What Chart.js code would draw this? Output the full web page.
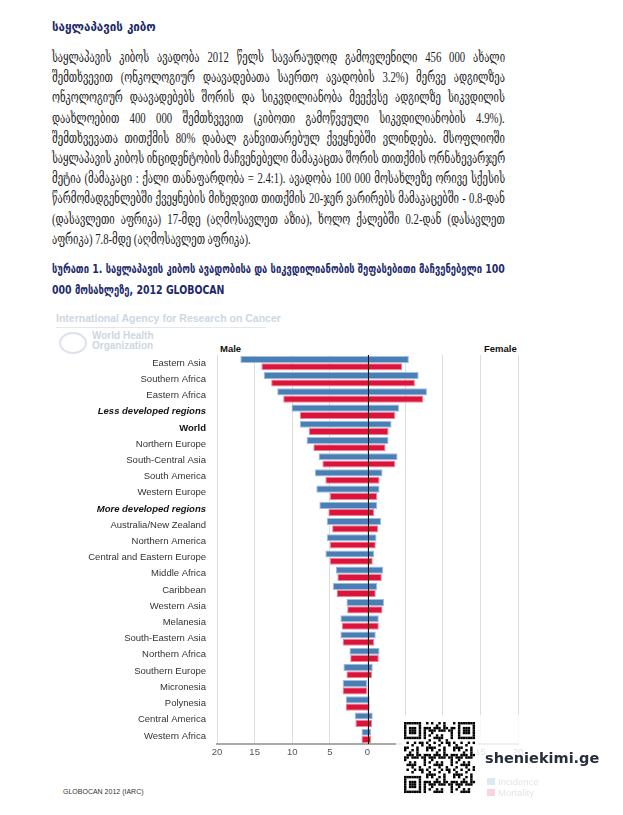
<!DOCTYPE html>
<html>
<head>
<meta charset="utf-8">
<script src="https://cdn.jsdelivr.net/npm/chart.js@4.4.0/dist/chart.umd.min.js"></script>
<style>
body { margin: 0; width: 623px; height: 815px; background: #fff; position: relative; overflow: hidden; }
.t { position: absolute; white-space: nowrap; line-height: 20px; transform-origin: 0 50%; }
.p { font-family: "Liberation Serif", "DejaVu Serif Condensed", "DejaVu Serif", serif; font-size: 14.5px; color: #1b1b1b; }
.h { font-family: "DejaVu Sans Condensed", "DejaVu Sans", sans-serif; font-weight: bold; font-size: 13px; color: #1c2a6b; }
.s { position: absolute; white-space: nowrap; font-family: "Liberation Sans", Arial, sans-serif; }
#chart { position: absolute; left: 40px; top: 340px; }
#veil { position: absolute; left: 396px; top: 715px; width: 227px; height: 85px; background: rgba(255,255,255,0.82); }
#qr { position: absolute; left: 402px; top: 720px; background: #fff; }
</style>
</head>
<body>

<div class="t h" id="title" style="left:52px; top:17px;">საყლაპავის კიბო</div>

<div id="para"></div>
<div id="caption"></div>

<!-- faded IARC / WHO header -->
<div class="s" style="left:56px; top:312px; font-size:10.5px; font-weight:bold; color:#cdd7e2;">International Agency for Research on Cancer</div>
<div style="position:absolute; left:56px; top:327px; width:210px; height:1px; background:#e3e8ee;"></div>
<div style="position:absolute; left:59px; top:332px; width:24px; height:18px; border-radius:50%; border:2px solid #dde3ea;"></div>
<div class="s" style="left:92px; top:331px; font-size:10px; font-weight:bold; line-height:10px; color:#cdd7e2;">World Health<br>Organization</div>

<div class="s" style="left:220px; top:343px; font-size:9.5px; font-weight:bold; color:#111;">Male</div>
<div class="s" style="left:484px; top:343px; font-size:9.5px; font-weight:bold; color:#111;">Female</div>

<canvas id="chart" width="490" height="428"></canvas>

<div class="s" style="left:63px; top:788px; font-size:7px; color:#333;">GLOBOCAN 2012 (IARC)</div>

<!-- legend, faded behind the watermark -->
<div style="position:absolute; left:487px; top:778px; width:8px; height:7px; background:#4a7fb5;"></div>
<div class="s" style="left:498px; top:776px; font-size:9.5px; color:#666;">Incidence</div>
<div style="position:absolute; left:487px; top:789px; width:8px; height:7px; background:#dc143c;"></div>
<div class="s" style="left:498px; top:787px; font-size:9.5px; color:#666;">Mortality</div>

<div id="veil"></div>
<canvas id="qr" width="75" height="75"></canvas>
<div class="s" style="left:485px; top:750px; font-family:'DejaVu Sans',sans-serif; font-size:14.5px; font-weight:bold; color:#262d3b;">sheniekimi.ge</div>

<script>
// body text, one entry per printed line
const paraLines = [
    'საყლაპავის კიბოს ავადობა 2012 წელს სავარაუდოდ გამოვლენილი 456 000 ახალი',
    'შემთხვევით (ონკოლოგიურ დაავადებათა საერთო ავადობის 3.2%) მერვე ადგილზეა',
    'ონკოლოგიურ დაავადებებს შორის და სიკვდილიანობა მეექვსე ადგილზე სიკვდილის',
    'დაახლოებით 400 000 შემთხვევით (კიბოთი გამოწვეული სიკვდილიანობის 4.9%).',
    'შემთხვევათა თითქმის 80% დაბალ განვითარებულ ქვეყნებში ვლინდება. მსოფლიოში',
    'საყლაპავის კიბოს ინციდენტობის მაჩვენებელი მამაკაცთა შორის თითქმის ორნახევარჯერ',
    'მეტია (მამაკაცი : ქალი თანაფარდობა = 2.4:1). ავადობა 100 000 მოსახლეზე ორივე სქესის',
    'წარმომადგენლებში ქვეყნების მიხედვით თითქმის 20-ჯერ ვარირებს მამაკაცებში - 0.8-დან',
    '(დასავლეთი აფრიკა) 17-მდე (აღმოსავლეთ აზია), ხოლო ქალებში 0.2-დან (დასავლეთ',
    'აფრიკა) 7.8-მდე (აღმოსავლეთ აფრიკა).'
];
const captionLines = [
    'სურათი 1. საყლაპავის კიბოს ავადობისა და სიკვდილიანობის შეფასებითი მაჩვენებელი 100',
    '000 მოსახლეზე, 2012 GLOBOCAN'
];

// chart data (rate per 100 000)
const regions = [
    'Eastern Asia', 'Southern Africa', 'Eastern Africa', 'Less developed regions', 'World',
    'Northern Europe', 'South-Central Asia', 'South America', 'Western Europe', 'More developed regions',
    'Australia/New Zealand', 'Northern America', 'Central and Eastern Europe', 'Middle Africa', 'Caribbean',
    'Western Asia', 'Melanesia', 'South-Eastern Asia', 'Northern Africa', 'Southern Europe',
    'Micronesia', 'Polynesia', 'Central America', 'Western Africa'
];
const maleIncidence = [16.9, 13.8, 12.0, 10.1, 9.0, 8.1, 6.5, 7.0, 6.8, 6.4, 5.4, 5.4, 5.6, 4.2, 4.6, 2.8, 3.6, 3.6, 2.4, 3.2, 3.3, 2.9, 1.7, 0.8];
const femaleIncidence = [5.5, 6.8, 7.9, 4.2, 3.2, 2.8, 4.0, 2.0, 1.6, 1.3, 1.8, 1.2, 0.9, 2.1, 1.3, 2.2, 1.5, 1.1, 1.6, 0.7, 0.0, 0.3, 0.7, 0.5];
const maleMortality = [14.1, 12.8, 11.2, 9.0, 7.8, 7.2, 6.0, 5.6, 5.0, 5.2, 4.7, 5.0, 5.0, 4.0, 4.1, 2.7, 3.4, 3.3, 2.3, 2.8, 3.3, 2.9, 1.6, 0.8];
const femaleMortality = [4.6, 6.3, 7.4, 3.7, 2.8, 2.4, 3.7, 1.6, 1.3, 0.9, 1.4, 1.1, 0.7, 1.9, 1.1, 2.0, 1.5, 0.9, 1.5, 0.6, 0.0, 0.3, 0.6, 0.5];
const boldRegions = ['World'];
const italicRegions = ['Less developed regions', 'More developed regions'];

// lay out a block of justified lines
function setLines(container, lines, cls, left, top, step, width) {
    const els = lines.map((txt, i) => {
        const d = document.createElement('div');
        d.className = 't ' + cls;
        d.textContent = txt;
        d.style.left = left + 'px';
        d.style.top = (top + i * step) + 'px';
        container.appendChild(d);
        return d;
    });
    // one common squeeze for the block, then spread words on full lines
    let scale = 1;
    els.forEach(d => { scale = Math.min(scale, width / d.scrollWidth); });
    els.forEach((d, i) => {
        if (i < els.length - 1) {
            const spaces = (d.textContent.match(/ /g) || []).length;
            const extra = width / scale - d.scrollWidth;
            if (spaces) d.style.wordSpacing = (extra / spaces) + 'px';
        }
        d.style.transform = 'scaleX(' + scale + ')';
    });
}
setLines(document.getElementById('para'), paraLines, 'p', 52, 47, 20.2, 453);
setLines(document.getElementById('caption'), captionLines, 'h', 52, 259, 21, 453);

const title = document.getElementById('title');
title.style.transform = 'scaleX(' + (104 / title.scrollWidth) + ')';

// qr-like badge
(function drawQr() {
    const c = document.getElementById('qr').getContext('2d');
    const n = 29, m = 2.45, o = 2;
    c.fillStyle = '#fff';
    c.fillRect(0, 0, 75, 75);
    c.fillStyle = '#000';
    const corners = [[0, 0], [0, n - 7], [n - 7, 0]];
    for (let y = 0; y < n; y++) {
        for (let x = 0; x < n; x++) {
            let on;
            const cf = corners.find(([cy, cx]) => y - cy >= 0 && y - cy < 7 && x - cx >= 0 && x - cx < 7);
            if (cf) {
                const r = y - cf[0], q = x - cf[1];
                on = r === 0 || r === 6 || q === 0 || q === 6 || (r >= 2 && r <= 4 && q >= 2 && q <= 4);
            } else if ((y < 8 && (x < 8 || x > n - 9)) || (y > n - 9 && x < 8)) {
                on = false;
            } else {
                on = ((x * x * 7 + y * y * 3 + x * y * 5 + x + 2 * y) % 11) < 5;
            }
            if (on) c.fillRect(o + x * m, o + y * m, m, m);
        }
    }
})();

// black zero line on top of the bars
const zeroLine = {
    id: 'zeroLine',
    afterDatasetsDraw(chart) {
        const x = Math.round(chart.scales.x.getPixelForValue(0)) + 0.5;
        const ctx = chart.ctx;
        ctx.save();
        ctx.strokeStyle = '#111';
        ctx.lineWidth = 1;
        ctx.beginPath();
        ctx.moveTo(x, chart.chartArea.top);
        ctx.lineTo(x, chart.chartArea.bottom);
        ctx.stroke();
        ctx.restore();
    }
};

const ctx = document.getElementById('chart').getContext('2d');
new Chart(ctx, {
    type: 'bar',
    data: {
        labels: regions,
        datasets: [{
            label: 'Incidence',
            data: maleIncidence.map((v, i) => [-v, femaleIncidence[i]]),
            backgroundColor: '#4a7fb5',
            borderColor: '#9dbfe0',
            borderWidth: 1,
            borderSkipped: false,
        }, {
            label: 'Mortality',
            data: maleMortality.map((v, i) => [-v, femaleMortality[i]]),
            backgroundColor: '#dc143c',
            borderColor: '#ee8598',
            borderWidth: 1,
            borderSkipped: false,
        }],
    },
    options: {
        indexAxis: 'y',
        responsive: false,
        animation: false,
        devicePixelRatio: 1,
        categoryPercentage: 0.9,
        barPercentage: 0.98,
        layout: { padding: { top: 15, right: 12, left: 0, bottom: 0 } },
        plugins: { legend: { display: false }, tooltip: { enabled: false } },
        scales: {
            x: {
                min: -20,
                max: 20,
                ticks: {
                    stepSize: 5,
                    padding: 3,
                    color: '#555',
                    font: { family: 'Liberation Sans, Arial, sans-serif', size: 9.5 },
                    callback: v => Math.abs(v),
                },
                grid: { color: '#dddddd', drawTicks: false },
                border: { display: true, color: '#aaaaaa', width: 2 },
                afterFit: s => { s.height = 24; },
            },
            y: {
                ticks: {
                    padding: 3,
                    color: c => (boldRegions.includes(regions[c.index]) || italicRegions.includes(regions[c.index])) ? '#111' : '#333',
                    font: c => {
                        const r = regions[c.index];
                        const f = { family: 'Liberation Sans, Arial, sans-serif', size: 9.5 };
                        if (boldRegions.includes(r)) f.weight = 'bold';
                        if (italicRegions.includes(r)) { f.weight = 'bold'; f.style = 'italic'; }
                        return f;
                    },
                },
                grid: { display: false },
                border: { display: false },
                afterFit: s => { s.width = 177; },
            },
        },
    },
    plugins: [zeroLine],
});
</script>
</body>
</html>
